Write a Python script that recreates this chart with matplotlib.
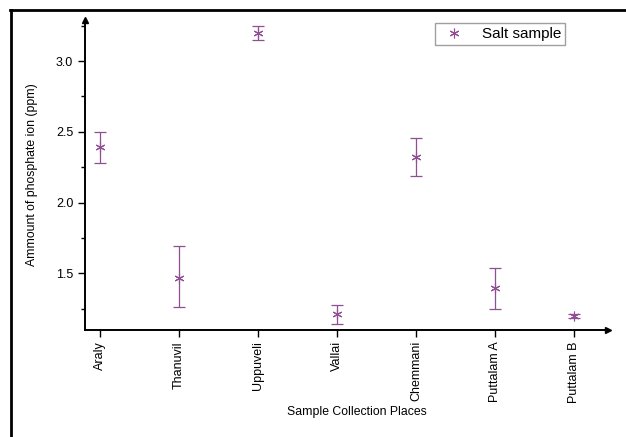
import numpy as np
import matplotlib
matplotlib.use("Agg")
import matplotlib.pyplot as plt
from matplotlib.lines import Line2D

plt.rcParams["font.family"] = ["Liberation Sans", "DejaVu Sans"]

places = ["Araly", "Thanuvil", "Uppuveli", "Vallai", "Chemmani", "Puttalam A", "Puttalam B"]
phosphate = [2.39, 1.47, 3.20, 1.21, 2.32, 1.40, 1.20]
err_low = [0.11, 0.21, 0.05, 0.07, 0.135, 0.15, 0.012]
err_high = [0.11, 0.22, 0.05, 0.07, 0.135, 0.14, 0.012]

color = "#8f4f92"
star = (6, 2, 0)

fig = plt.figure(figsize=(6.26, 4.37), dpi=100)
W, H = 626, 437
ax = fig.add_axes([85 / W, (H - 330) / H, (608 - 85) / W, (330 - 20) / H])

x = np.arange(len(places))
ax.errorbar(x, phosphate, yerr=[err_low, err_high], fmt="none", ecolor=color,
            elinewidth=0.9, capsize=4, capthick=0.9)
ax.plot(x, phosphate, linestyle="none", marker=star, markersize=7,
        markeredgewidth=0.8, color=color, label="Salt sample")

ax.set_xlim(-0.19, 6.43)
ax.set_ylim(1.10, 3.29)
ax.set_xticks(x)
ax.set_xticklabels(places, rotation=90, fontsize=9)
ax.set_yticks([1.5, 2.0, 2.5, 3.0])
ax.set_yticks([1.25, 1.75, 2.25, 2.75, 3.25], minor=True)
ax.tick_params(axis="y", labelsize=9, length=5, width=1, direction="out")
ax.tick_params(axis="y", which="minor", length=3, width=1)
ax.tick_params(axis="x", length=5, width=1, direction="out", pad=3)

for side in ["top", "right"]:
    ax.spines[side].set_visible(False)
for side in ["left", "bottom"]:
    ax.spines[side].set_linewidth(1.4)

# arrow heads at axis ends
ax.plot(1, 0, ">", color="black", markersize=5, transform=ax.transAxes, clip_on=False)
ax.plot(0, 1, "^", color="black", markersize=5, transform=ax.transAxes, clip_on=False)

ax.set_xlabel("Sample Collection Places", fontsize=8.8)
ax.set_ylabel("Ammount of phosphate ion (ppm)", fontsize=8.8)
ax.xaxis.set_label_coords(0.52, -0.245)
ax.yaxis.set_label_coords(-0.09, 0.5)

leg = ax.legend(loc="upper right", bbox_to_anchor=(0.918, 0.99), fontsize=11,
                frameon=True, fancybox=False, edgecolor="#888888",
                handlelength=2.0, borderpad=0.25, borderaxespad=0)
leg.get_frame().set_linewidth(1.0)

# outer frame (top and left edges)
fig.add_artist(Line2D([10 / W, 1], [1 - 10 / H, 1 - 10 / H], color="black", lw=2,
                      transform=fig.transFigure))
fig.add_artist(Line2D([11 / W, 11 / W], [0, 1 - 10 / H], color="black", lw=2,
                      transform=fig.transFigure))

fig.savefig("out.png", dpi=100)
